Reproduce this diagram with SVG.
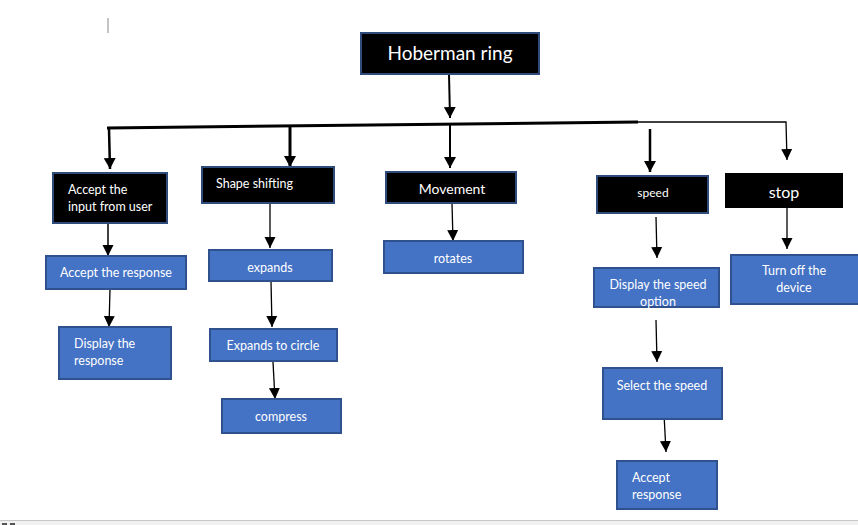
<svg xmlns="http://www.w3.org/2000/svg" width="858" height="525" viewBox="0 0 858 525">
<style>
.blk{fill:#000;stroke:#2f4b7c;stroke-width:2}
.blu{fill:#4472c4;stroke:#2f528f;stroke-width:2}
text{font-family:Lato,"Open Sans","Liberation Sans",sans-serif;fill:#fff;font-size:12.5px}
.c{text-anchor:middle}
.ln{stroke:#000;fill:none}
</style>
<defs>
<marker id="ah" markerUnits="userSpaceOnUse" markerWidth="12" markerHeight="12" refX="11" refY="6" orient="auto">
<path d="M0,0 L11,6 L0,12 z" fill="#000"/>
</marker>
<marker id="as" markerUnits="userSpaceOnUse" markerWidth="12" markerHeight="12" refX="11" refY="6" orient="auto">
<path d="M0,0.5 L11,6 L0,11.5 z" fill="#000"/>
</marker>
</defs>
<rect width="858" height="525" fill="#fff"/>
<line x1="108" y1="18" x2="108" y2="33" stroke="#888" stroke-width="1"/>
<g id="connectors">
<polyline class="ln" points="107,128 638,122" stroke-width="3"/>
<polyline class="ln" points="638,122 786,122 787,160" stroke-width="1.3" marker-end="url(#as)"/>
<line class="ln" x1="449" y1="74" x2="450" y2="118" stroke-width="2" marker-end="url(#ah)"/>
<line class="ln" x1="109" y1="129" x2="110" y2="169" stroke-width="2.5" marker-end="url(#ah)"/>
<line class="ln" x1="290" y1="126" x2="290" y2="167" stroke-width="3" marker-end="url(#ah)"/>
<line class="ln" x1="450" y1="124" x2="450" y2="168" stroke-width="2" marker-end="url(#ah)"/>
<line class="ln" x1="650" y1="129" x2="650" y2="172" stroke-width="2.5" marker-end="url(#ah)"/>
<line class="ln" x1="108" y1="223" x2="108" y2="256" stroke-width="1.5" marker-end="url(#as)"/>
<line class="ln" x1="110" y1="289" x2="109" y2="327" stroke-width="1.3" marker-end="url(#as)"/>
<line class="ln" x1="270" y1="203" x2="270" y2="248" stroke-width="1.3" marker-end="url(#as)"/>
<line class="ln" x1="271" y1="281" x2="272" y2="327" stroke-width="1.3" marker-end="url(#as)"/>
<line class="ln" x1="273" y1="362" x2="275" y2="399" stroke-width="1.3" marker-end="url(#as)"/>
<line class="ln" x1="452" y1="203" x2="453" y2="241" stroke-width="1.3" marker-end="url(#as)"/>
<line class="ln" x1="656" y1="217" x2="657" y2="258" stroke-width="1.3" marker-end="url(#as)"/>
<line class="ln" x1="787" y1="208" x2="787" y2="249" stroke-width="1.3" marker-end="url(#as)"/>
<line class="ln" x1="656" y1="320" x2="657" y2="362" stroke-width="1.3" marker-end="url(#as)"/>
<line class="ln" x1="664" y1="414" x2="666" y2="452" stroke-width="1.3" marker-end="url(#as)"/>
</g>
<g id="hoberman"><rect class="blk" x="361" y="33" width="178" height="41"/><text class="c" x="450" y="60" style="font-size:19px">Hoberman ring</text></g>
<g id="accept-input"><rect class="blk" x="53" y="173" width="114" height="50"/><text x="68" y="194">Accept the</text><text x="68" y="211">input from user</text></g>
<g id="shape-shifting"><rect class="blk" x="202" y="167" width="132" height="36"/><text x="216" y="188">Shape shifting</text></g>
<g id="movement"><rect class="blk" x="386" y="172" width="130" height="31"/><text class="c" x="452" y="194" style="font-size:14px">Movement</text></g>
<g id="speed"><rect class="blk" x="597" y="176" width="111" height="37"/><text class="c" x="653" y="197" style="font-size:12px">speed</text></g>
<g id="stop"><rect x="725" y="173" width="118" height="35" fill="#000"/><text class="c" x="784" y="198" style="font-size:16px">stop</text></g>
<g id="accept-response"><rect class="blu" x="46" y="256" width="140" height="33"/><text class="c" x="116" y="277">Accept the response</text></g>
<g id="display-response"><rect class="blu" x="59" y="327" width="112" height="52"/><text x="74" y="348">Display the</text><text x="74" y="365">response</text></g>
<g id="expands"><rect class="blu" x="209" y="250" width="123" height="31"/><text class="c" x="270" y="272">expands</text></g>
<g id="expands-circle"><rect class="blu" x="210" y="329" width="127" height="32"/><text class="c" x="273" y="350">Expands to circle</text></g>
<g id="compress"><rect class="blu" x="222" y="399" width="119" height="34"/><text class="c" x="281" y="421">compress</text></g>
<g id="rotates"><rect class="blu" x="384" y="241" width="139" height="32"/><text class="c" x="453" y="263">rotates</text></g>
<g id="display-speed"><rect class="blu" x="594" y="268" width="125" height="39"/><text class="c" x="658" y="289">Display the speed</text><text class="c" x="658" y="306">option</text></g>
<g id="turn-off"><rect class="blu" x="731" y="255" width="128" height="49"/><text class="c" x="794" y="275">Turn off the</text><text class="c" x="794" y="292">device</text></g>
<g id="select-speed"><rect class="blu" x="603" y="368" width="119" height="51"/><text class="c" x="662" y="390">Select the speed</text></g>
<g id="accept-resp2"><rect class="blu" x="617" y="461" width="100" height="48"/><text x="632" y="482">Accept</text><text x="632" y="499">response</text></g>
<rect x="0" y="520" width="858" height="5" fill="#f0f0f0"/>
<line x1="0" y1="520.5" x2="858" y2="520.5" stroke="#c8c8c8" stroke-width="1"/>
<rect x="2" y="523" width="5" height="2" fill="#555"/><rect x="10" y="523" width="5" height="2" fill="#555"/>
</svg>
